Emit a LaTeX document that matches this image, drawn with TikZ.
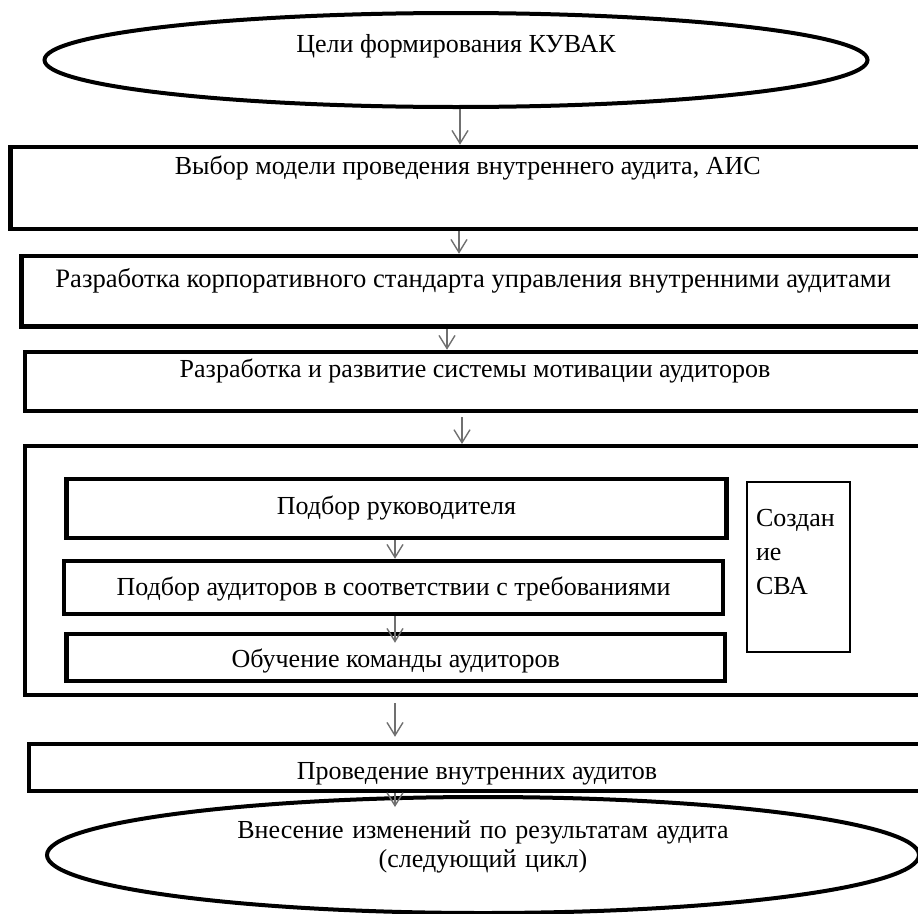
\documentclass[tikz,border=0pt]{standalone}
\usepackage{fontspec}
\setmainfont{Liberation Serif}
\usepackage{tikz}
\usetikzlibrary{shapes.geometric,arrows.meta}

\tikzset{
  blk/.style={draw, rectangle, line width=4.5pt, inner sep=0pt, font=\fontsize{26}{30}\selectfont},
  oval/.style={draw, ellipse, line width=4pt, inner sep=0pt, font=\fontsize{26}{29}\selectfont},
  arr/.style={draw={rgb, 255:red, 112; green, 112; blue, 112}, line width=1.4pt, -{Straight Barb[length=13pt,width=16pt]}},
}

\begin{document}
\begin{tikzpicture}[x=1pt,y=1pt,yscale=-1]
        \useasboundingbox (0,0) rectangle (918,913);

        %Shape: Ellipse
        \node [oval, minimum width=823pt, minimum height=94pt, text height=18pt, text depth=34pt] (goal) at (456,60) {Цели формирования КУВАК};

        %Shape: Rectangle
        \node [blk, minimum width=914.5pt, text height=27pt, text depth=55pt] (model) at (467.75,188) {Выбор модели проведения внутреннего аудита, АИС};
        %Shape: Rectangle
        \node [blk, font=\fontsize{26.6}{30}\selectfont, minimum width=903.5pt, text height=31pt, text depth=39.5pt] (std) at (473.25,291.25) {Разработка корпоративного стандарта управления внутренними аудитами};
        %Shape: Rectangle
        \node [blk, minimum width=900pt, text height=25pt, text depth=34pt] (motiv) at (475,381.5) {Разработка и развитие системы мотивации аудиторов};

        %Shape: Rectangle (group)
        \node [blk, line width=4pt, minimum width=900pt, minimum height=249pt] (grp) at (475,570.5) {};
        %Shape: Rectangle
        \node [blk, minimum width=660pt, text height=35pt, text depth=24pt] (lead) at (396.5,508.5) {Подбор руководителя};
        %Shape: Rectangle
        \node [blk, minimum width=659pt, text height=34pt, text depth=19pt] (team) at (393.5,587.5) {Подбор аудиторов в соответствии с требованиями};
        %Shape: Rectangle
        \node [blk, minimum width=658.5pt, text height=33pt, text depth=14pt] (train) at (395.75,657.5) {Обучение команды аудиторов};
        %Shape: Rectangle (side)
        \node [blk, line width=1.5pt, inner xsep=9pt, text width=85pt, align=left, font=\fontsize{26}{34}\selectfont, text height=44pt, text depth=126pt] (sva) at (798.5,567) {Создан\\ие\\СВА};

        %Shape: Rectangle
        \node [blk, minimum width=896pt, text height=35pt, text depth=12pt] (audit) at (477,767.5) {Проведение внутренних аудитов};

        %Shape: Ellipse
        \node [oval, minimum width=872pt, minimum height=116pt, text width=560pt, align=center, text height=20pt, text depth=54pt] (next) at (483,855) {Внесение изменений по результатам аудита\\(следующий цикл)};

        %Straight Lines
        \draw [arr] (460,0 |- goal.south) -- (460,0 |- model.north);
        %Straight Lines
        \draw [arr] (459,0 |- model.south) -- (459,0 |- std.north);
        %Straight Lines
        \draw [arr] (447,0 |- std.south) -- (447,0 |- motiv.north);
        %Straight Lines
        \draw [arr, shorten <=4pt] (462,0 |- motiv.south) -- (462,0 |- grp.north);
        %Straight Lines
        \draw [arr] (395,0 |- lead.south) -- (395,0 |- team.north);
        %Straight Lines
        \draw [arr, shorten >=-11pt] (395,0 |- team.south) -- (395,0 |- train.north);
        %Straight Lines
        \draw [arr, shorten <=6pt, shorten >=5pt] (395,0 |- grp.south) -- (395,0 |- audit.north);
        %Straight Lines
        \draw [arr, shorten >=-12pt] (395,0 |- audit.south) -- (395,0 |- next.north);

\end{tikzpicture}
\end{document}
